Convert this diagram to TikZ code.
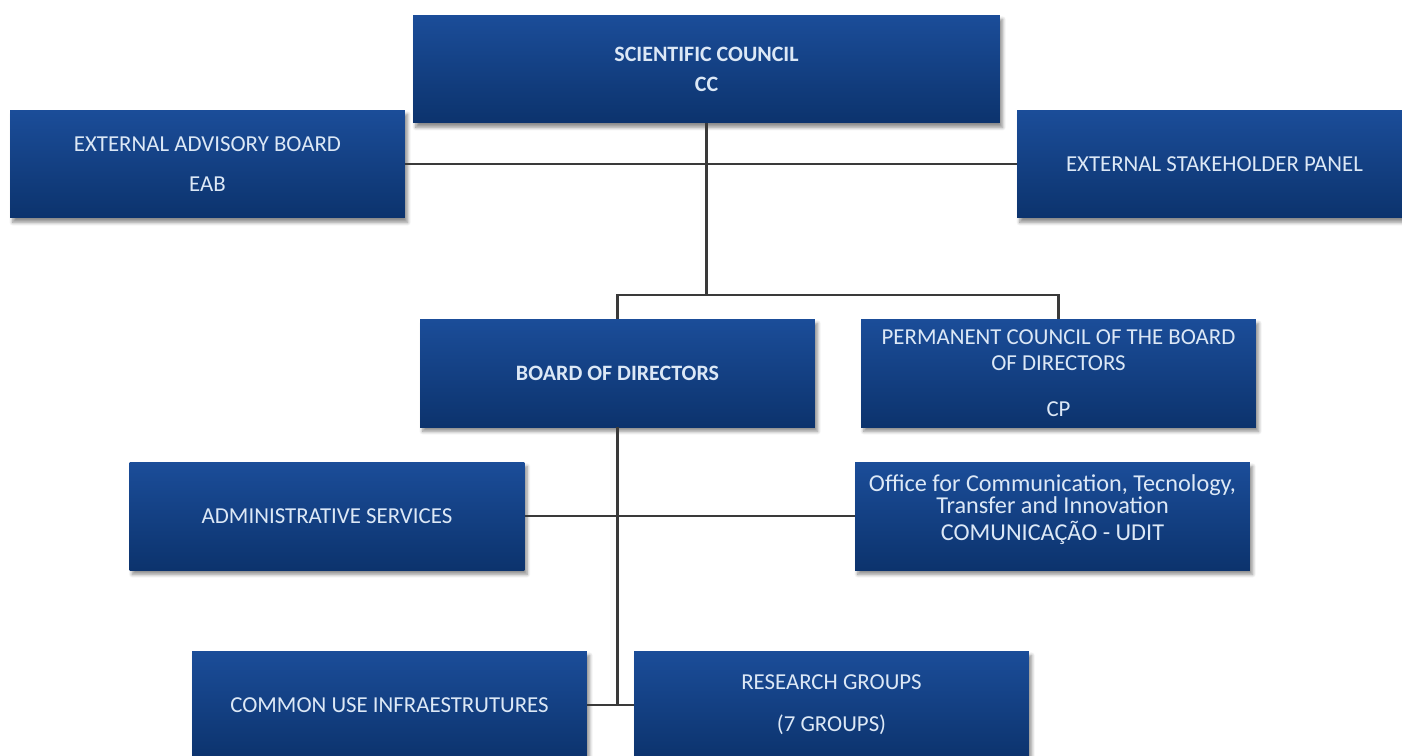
\documentclass[tikz,border=0pt]{standalone}
\usepackage{fontspec}
\setmainfont{Carlito}
\usetikzlibrary{shadows.blur}
\definecolor{boxtop}{HTML}{1B4D99}
\definecolor{boxbot}{HTML}{0C336D}
\definecolor{boxtext}{HTML}{DCE8F6}
\definecolor{wire}{HTML}{3A3A3A}

\begin{document}
\begin{tikzpicture}[x=0.02cm,y=-0.02cm,
		orgbox/.style={rectangle, top color=boxtop, bottom color=boxbot, draw=none,
			text=boxtext, align=center, minimum width=7.9cm, minimum height=2.16cm,
			inner sep=2pt, font=\fontsize{13}{14}\selectfont,
			blur shadow={shadow xshift=1.5pt, shadow yshift=-2.5pt, shadow opacity=45, shadow blur steps=6}},
		wide/.style={minimum width=11.74cm},
		bold/.style={font=\fontsize{12.5}{14}\selectfont\bfseries},
		link/.style={draw=wire, line width=1.4pt}]
				\useasboundingbox (0,0) rectangle (1402,755);
				% top level
				\node[orgbox, wide, bold] (cc) at (706.5,69) {SCIENTIFIC COUNCIL\\[3pt]CC};
				\node[orgbox] (eab) at (207.5,164) {EXTERNAL ADVISORY BOARD\\[9pt]EAB};
				\node[orgbox] (esp) at (1214.5,164) {EXTERNAL STAKEHOLDER PANEL};
				% directors
				\node[orgbox] (cp) at (1058.5,373) {PERMANENT COUNCIL OF THE BOARD\\[1pt]OF DIRECTORS\\[12pt]CP};
				\node[orgbox, bold] (bod) at (617.5,373) {BOARD OF DIRECTORS};
				% services
				\node[orgbox, font=\fontsize{13.8}{13}\selectfont] (udit) at (1052.5,516) {\\[-11pt]Office for Communication, Tecnology,\\Transfer and Innovation\\[2pt]COMUNICAÇÃO - UDIT};
				\node[orgbox] (adm) at (327,516) {ADMINISTRATIVE SERVICES};
				% groups
				\node[orgbox] (cui) at (389.5,705) {COMMON USE INFRAESTRUTURES};
				\node[orgbox] (rg) at (831.5,705) {RESEARCH GROUPS\\[10pt](7 GROUPS)};
				\coordinate (j1) at (706.5,295);
				\draw[link] (eab.east) -- (esp.west);
				\draw[link] (cc.south) -- (j1);
				\draw[link] (bod.north) |- (j1) -| (cp.north);
				\draw[link] (bod.south) -- (bod.south |- cui.east);
				\draw[link] (adm.east) -- (udit.west);
				\draw[link] (cui.east) -- (rg.west);
			\end{tikzpicture}
\end{document}
